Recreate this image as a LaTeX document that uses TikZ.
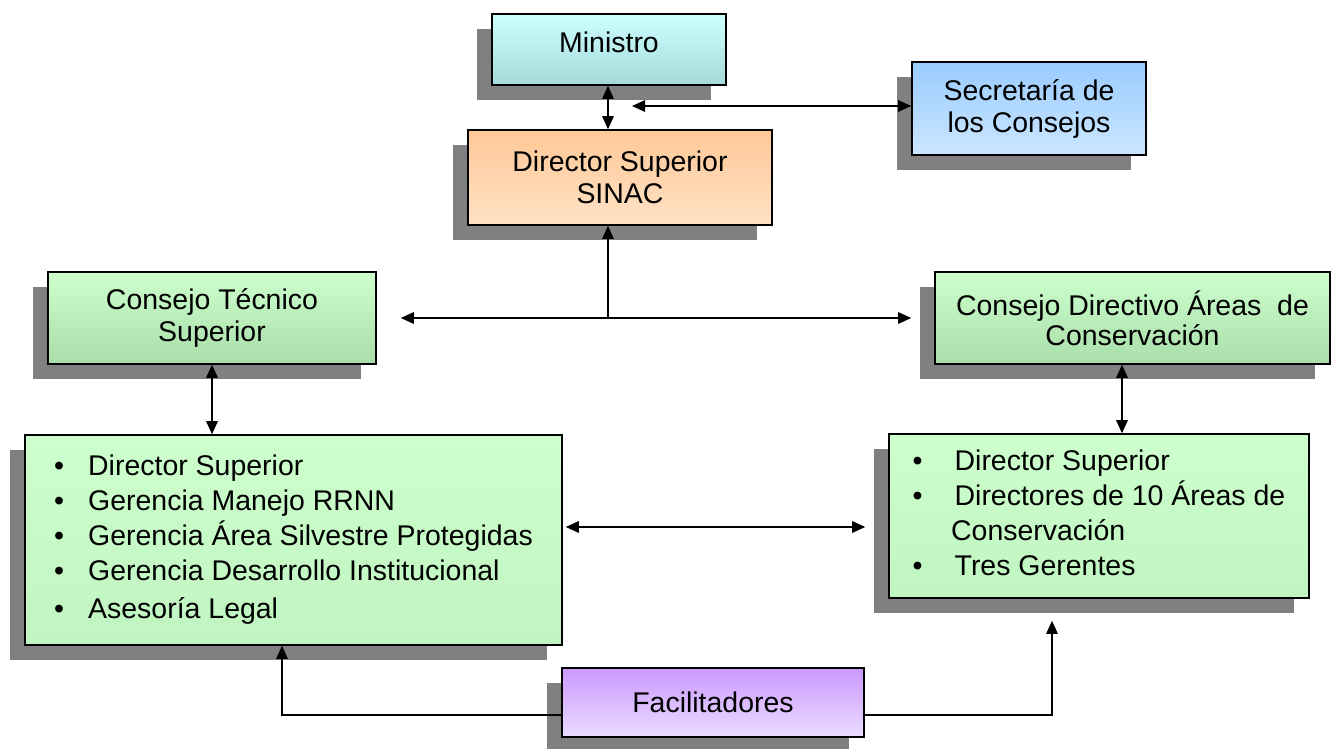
\documentclass[tikz,border=0pt]{standalone}
\usepackage{fontspec}
\setmainfont{Liberation Sans}
\usepackage{xcolor}
\usepackage{tikz}
\usetikzlibrary{shadows, arrows.meta}
\definecolor{sombra}{HTML}{808080}
\definecolor{cyatop}{HTML}{CCFFFF}
\definecolor{cyabot}{HTML}{A6DADA}
\definecolor{oratop}{HTML}{FFC896}
\definecolor{orabot}{HTML}{FFE2C6}
\definecolor{blutop}{HTML}{99CCFF}
\definecolor{blubot}{HTML}{CCE6FF}
\definecolor{gretop}{HTML}{CCFFCC}
\definecolor{grebot}{HTML}{A9DDA9}
\definecolor{lsttop}{HTML}{CCFFCC}
\definecolor{lstbot}{HTML}{C0F4C0}
\definecolor{purtop}{HTML}{CC99FF}
\definecolor{purbot}{HTML}{EADCFF}
\tikzstyle{base} = [rectangle, align=center, draw=black, line width=0.9pt, font=\fontsize{16.2}{18.2}\selectfont, drop shadow={shadow xshift=-0.3cm, shadow yshift=-0.3cm, opacity=1, fill=sombra}]
\tikzstyle{cya} = [base, top color=cyatop, bottom color=cyabot]
\tikzstyle{ora} = [base, top color=oratop, bottom color=orabot]
\tikzstyle{blu} = [base, top color=blutop, bottom color=blubot]
\tikzstyle{gre} = [base, top color=gretop, bottom color=grebot]
\tikzstyle{lst} = [base, top color=lsttop, bottom color=lstbot, font=\fontsize{16.2}{19.9}\selectfont]
\tikzstyle{pur} = [base, top color=purtop, bottom color=purbot]
\tikzstyle{arrow} = [line width=0.8pt, -{Triangle[length=0.26cm, width=0.23cm]}]
\tikzstyle{darrow} = [line width=0.8pt, {Triangle[length=0.26cm, width=0.23cm]}-{Triangle[length=0.26cm, width=0.23cm]}]

\begin{document}
\begin{tikzpicture}

\useasboundingbox (0,0) rectangle (26.64,-14.98);

\node (min) [cya, minimum width=4.68cm, minimum height=1.42cm, text depth=0.28cm] at (12.18,-0.99) {Ministro};
\node (sec) [blu, minimum width=4.68cm, minimum height=1.86cm] at (20.58,-2.17) {Secretaría de\\los Consejos};
\node (dir) [ora, minimum width=6.08cm, minimum height=1.90cm] at (12.40,-3.55) {Director Superior\\SINAC};

\node (ctec) [gre, minimum width=6.56cm, minimum height=1.84cm] at (4.24,-6.36) {Consejo Técnico\\Superior};
\node (cdir) [gre, minimum width=7.90cm, minimum height=1.84cm] at (22.65,-6.36) {Consejo Directivo Áreas\ \ de\\[-1pt]Conservación};

\node (llist) [lst, minimum width=10.74cm, minimum height=4.20cm] at (5.87,-10.80) {%
\begin{tabular}{@{}p{0.68cm}@{}l@{}}
\textbullet & Director Superior\\
\textbullet & Gerencia Manejo RRNN\\
\textbullet & Gerencia Área Silvestre Protegidas\\
\textbullet & Gerencia Desarrollo Institucional\\[2pt]
\textbullet & Asesoría Legal
\end{tabular}};
\node (rlist) [lst, minimum width=8.40cm, minimum height=3.28cm] at (21.98,-10.32) {%
\begin{tabular}{@{}p{0.84cm}@{}l@{}}
\textbullet & Director Superior\\
\textbullet & Directores de 10 Áreas de\\
 & \hspace{-2pt}Conservación\\
\textbullet & Tres Gerentes
\end{tabular}};

\node (fac) [pur, minimum width=6.04cm, minimum height=1.38cm] at (14.26,-14.05) {Facilitadores};

\coordinate (hub) at (12.16,-6.36);
\coordinate (sj) at (12.64,-2.12);
\coordinate (mid) at (14.30,-10.54);

\draw [darrow] (min.south -| hub) -- (dir.north -| hub);
\draw [darrow] (sj) -- (sj -| sec.west);
\draw [arrow] (hub) -- (dir.south -| hub);
\draw [darrow] ([xshift=0.48cm]ctec.east) -- ([xshift=-0.46cm]cdir.west);

\draw [darrow] (ctec.south) -- (ctec.south |- llist.north);
\draw [darrow] ([xshift=-0.21cm]cdir.south) -- ([xshift=-0.21cm]cdir.south |- rlist.north);
\draw [darrow] ([xshift=0.06cm]llist.east |- mid) -- ([xshift=-0.46cm]rlist.west |- mid);

\draw [arrow] ([yshift=-0.25cm]fac.west) -| ([xshift=-0.23cm]llist.south);
\draw [arrow] ([yshift=-0.25cm]fac.east) -| ([xshift=-0.94cm, yshift=-0.44cm]rlist.south);

\end{tikzpicture}
\end{document}
